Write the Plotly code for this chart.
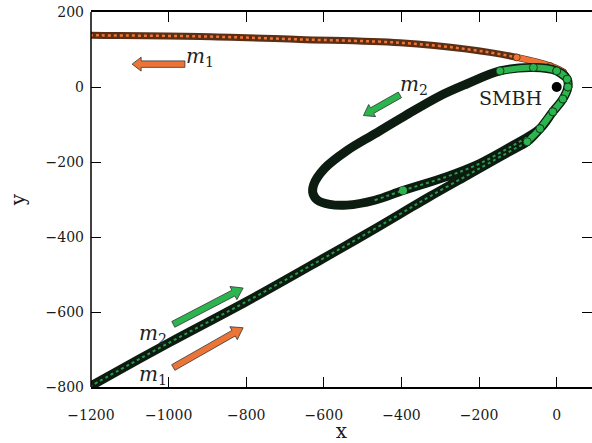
import math
import plotly.graph_objects as go

# Shared inbound path of the bound pair (m1 + m2) towards the SMBH
approach_x = [-1230, -1200, -997, -799, -603, -515, -404, -327, -231, -154, -107, -76, -43, -10, 16, 29, 27]
approach_y = [-815, -797, -681, -572, -458, -406, -339, -292, -236, -191, -164, -146, -111, -66, -32, 0, 21]

# m1 after the encounter: ejected along the upper branch
escape_x = [17, -17, -103, -232, -404, -662, -920, -1200, -1230]
escape_y = [39, 56, 79, 101, 118, 127, 135, 138, 138.5]

# m2 after the encounter: captured on an eccentric orbit
bound_x = [0, -60, -146, -232, -301, -391, -469, -541, -598, -626, -628, -616, -585, -541, -469, -396,
           -283, -198, -113, -43, -10, 16, 29, 27, 0]
bound_y = [43, 52, 43, 8, -24, -77, -125, -170, -217, -260, -284, -302, -313, -315, -302, -276,
           -239, -204, -156, -111, -66, -32, 0, 21, 43]

# last plotted position of m2
m2_now = (-396, -276)

x_ticks = [-1200, -1000, -800, -600, -400, -200, 0]
y_ticks = [-800, -600, -400, -200, 0, 200]
x_range = [-1200, 91]
y_range = [-800, 200]

W, H = 592, 443
M = dict(l=91, r=0, t=12, b=54)
sx = (W - M["l"] - M["r"]) / (x_range[1] - x_range[0])
sy = (H - M["t"] - M["b"]) / (y_range[1] - y_range[0])

GREEN = "#2cb54f"
GREEN_DARK = "#0d1c11"
ORANGE = "#ec7436"
ORANGE_DARK = "#5a2f16"
SERIF = "DejaVu Serif"


def near(xs, ys, radius):
    """Keep points within `radius` of the SMBH, breaking the line elsewhere."""
    ox, oy = [], []
    for a, b in zip(xs, ys):
        if math.hypot(a, b) < radius:
            ox.append(a)
            oy.append(b)
        else:
            ox.append(None)
            oy.append(None)
    return ox, oy


def block_arrow(tail, head, shaft=6.0, head_w=14.0, head_l=10.0):
    """Filled block arrow; widths are in screen pixels."""
    u0, v0 = tail[0] * sx, tail[1] * sy
    u1, v1 = head[0] * sx, head[1] * sy
    L = math.hypot(u1 - u0, v1 - v0)
    du, dv = (u1 - u0) / L, (v1 - v0) / L
    nu, nv = -dv, du
    bu, bv = u1 - du * head_l, v1 - dv * head_l
    pts = [
        (u0 + nu * shaft / 2, v0 + nv * shaft / 2),
        (bu + nu * shaft / 2, bv + nv * shaft / 2),
        (bu + nu * head_w / 2, bv + nv * head_w / 2),
        (u1, v1),
        (bu - nu * head_w / 2, bv - nv * head_w / 2),
        (bu - nu * shaft / 2, bv - nv * shaft / 2),
        (u0 - nu * shaft / 2, v0 - nv * shaft / 2),
    ]
    return "M " + " L ".join(f"{u / sx:.2f},{v / sy:.2f}" for u, v in pts) + " Z"


m1_x = approach_x + escape_x
m1_y = approach_y + escape_y
m2_x = approach_x + bound_x
m2_y = approach_y + bound_y

fig = go.Figure()
spline = dict(shape="spline", smoothing=1.0)

# m1 trajectory
fig.add_trace(go.Scatter(x=m1_x, y=m1_y, mode="lines",
                         line=dict(color=ORANGE_DARK, width=7, **spline), hoverinfo="skip"))
fig.add_trace(go.Scatter(x=escape_x, y=escape_y, mode="lines",
                         line=dict(color=ORANGE, width=2.5, dash="dot", **spline), hoverinfo="skip"))
nx, ny = near(m1_x, m1_y, 135)
fig.add_trace(go.Scatter(x=nx, y=ny, mode="lines+markers",
                         line=dict(color=ORANGE, width=6, **spline),
                         marker=dict(size=7, color=ORANGE, line=dict(color="#5a2a10", width=0.8)),
                         hoverinfo="skip"))

# m2 trajectory
fig.add_trace(go.Scatter(x=m2_x, y=m2_y, mode="lines",
                         line=dict(color=GREEN_DARK, width=9, **spline), hoverinfo="skip"))
fig.add_trace(go.Scatter(x=approach_x, y=approach_y, mode="lines",
                         line=dict(color="#2a9a4a", width=2, dash="dot", **spline), hoverinfo="skip"))
fig.add_trace(go.Scatter(x=bound_x[14:], y=bound_y[14:], mode="lines",
                         line=dict(color="#2a9a4a", width=2, dash="dot", **spline), hoverinfo="skip"))
nx, ny = near(m2_x, m2_y, 170)
fig.add_trace(go.Scatter(x=nx, y=ny, mode="lines+markers",
                         line=dict(color=GREEN, width=6, **spline),
                         marker=dict(size=8, color=GREEN, line=dict(color="#0d2a14", width=0.8)),
                         hoverinfo="skip"))
fig.add_trace(go.Scatter(x=[m2_now[0]], y=[m2_now[1]], mode="markers",
                         marker=dict(size=8, color=GREEN, line=dict(width=0)), hoverinfo="skip"))

# central black hole
fig.add_trace(go.Scatter(x=[0], y=[0], mode="markers",
                         marker=dict(size=10, color="black"), hoverinfo="skip"))

# direction arrows
arrows = [
    ((-958, 61), (-1094, 61), ORANGE, 6.5, 14, 9),
    ((-404, -21), (-498, -76), GREEN, 6.5, 14, 10),
    ((-988, -633), (-808, -536), GREEN, 6.5, 15, 11),
    ((-988, -748), (-808, -642), ORANGE, 6.5, 15, 11),
]
shapes = []
for tail, head, col, sw, hw, hl in arrows:
    shapes.append(dict(type="path", xref="x", yref="y", path=block_arrow(tail, head, sw, hw, hl),
                       fillcolor=col, line=dict(color="#333333", width=0.8), layer="above"))
# left spine
shapes.append(dict(type="line", xref="paper", yref="paper", x0=0, x1=0, y0=0, y1=1,
                   line=dict(color="black", width=1.5), layer="above"))

labels = [
    (-919, 79, "<i>m</i><sub>1</sub>"),
    (-367, 5, "<i>m</i><sub>2</sub>"),
    (-1040, -658, "<i>m</i><sub>2</sub>"),
    (-1040, -769, "<i>m</i><sub>1</sub>"),
]
annotations = [dict(x=x, y=y, text=t, showarrow=False, font=dict(family=SERIF, size=20, color="#222"))
               for x, y, t in labels]
annotations.append(dict(x=-118, y=-29, text="SMBH", showarrow=False,
                        font=dict(family=SERIF, size=19, color="#222")))

axis_common = dict(ticks="inside", ticklen=10, tickwidth=1.3, tickcolor="black",
                   showgrid=False, zeroline=False,
                   tickfont=dict(family=SERIF, size=14, color="#1a1a1a"))

fig.update_layout(
    width=W, height=H, margin=M,
    paper_bgcolor="white", plot_bgcolor="white",
    showlegend=False,
    shapes=shapes, annotations=annotations,
    xaxis=dict(range=x_range, tickvals=x_ticks, showline=True, linecolor="black", linewidth=1.5,
               mirror="ticks", ticklabelstandoff=14,
               title=dict(text="x", font=dict(family=SERIF, size=20, color="#1a1a1a"), standoff=6),
               **axis_common),
    yaxis=dict(range=y_range, tickvals=y_ticks, showline=False, mirror="ticks", ticklabelstandoff=6,
               title=dict(text="y", font=dict(family=SERIF, size=20, color="#1a1a1a"), standoff=14),
               **axis_common),
)

fig.write_html("out.html")
